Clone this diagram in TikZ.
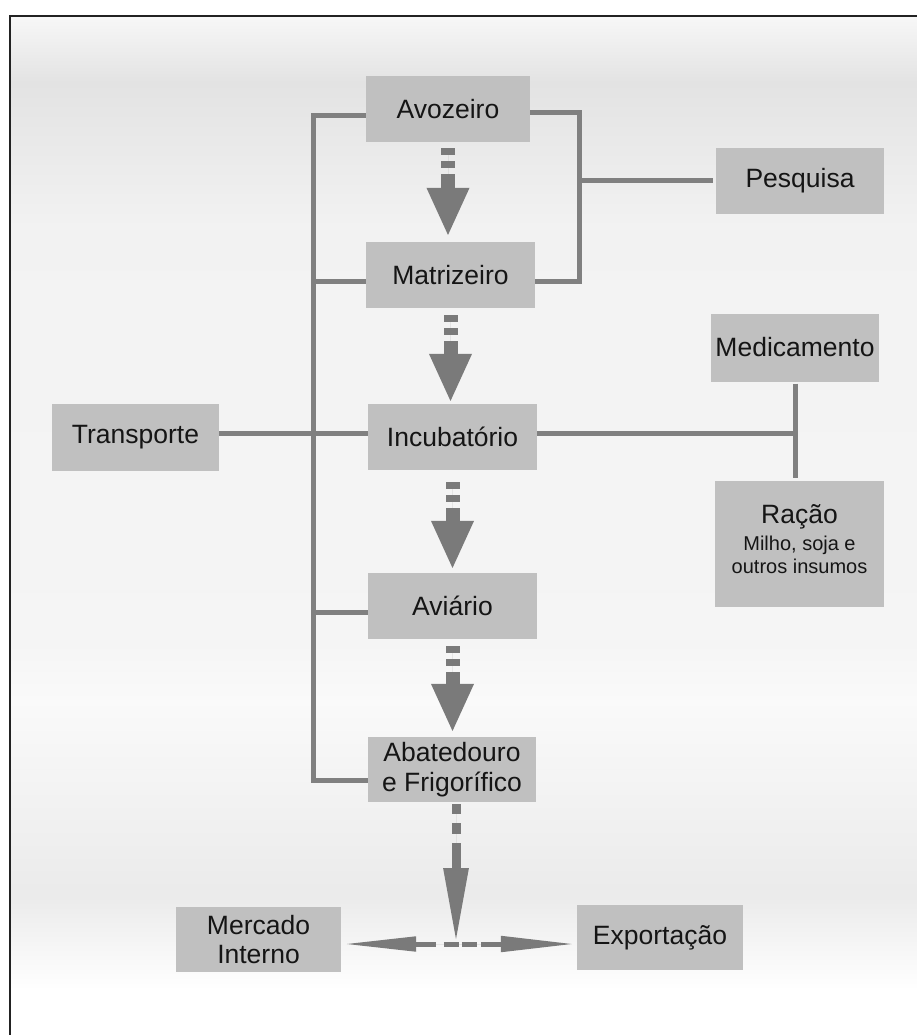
\documentclass[tikz,border=0pt]{standalone}
\usepackage{fontspec}
\setmainfont{Liberation Sans}
\usetikzlibrary{arrows.meta}
\definecolor{boxgray}{HTML}{C0C0C0}
\definecolor{linegray}{HTML}{808080}
\definecolor{arrgray}{HTML}{7A7A7A}
\definecolor{framec}{HTML}{222222}
\definecolor{txt}{HTML}{151515}
\begin{document}
\begin{tikzpicture}[x=1pt,y=-1pt,
  box/.style={fill=boxgray, inner sep=0pt, text=txt, align=center,
    font=\fontsize{26.5}{29.5}\selectfont, minimum width=167pt, minimum height=66pt},
  conn/.style={draw=linegray, line width=5pt},
  fatarrow/.style={draw=arrgray, fill=arrgray, line width=14pt,
    -{Triangle[width=39pt,length=49pt]},
    dash pattern=on 7pt off 6pt on 7pt off 6pt on 100pt off 1pt},
  slimarrow/.style={draw=arrgray, fill=arrgray, line width=9pt,
    -{Triangle[width=23pt,length=76pt]},
    dash pattern=on 10pt off 9pt on 11pt off 9pt on 100pt off 1pt},
  splitarrow/.style={draw=arrgray, fill=arrgray, line width=5pt,
    {Triangle[width=14pt,length=73pt]}-{Triangle[width=15pt,length=74pt]},
    dash pattern=on 21pt off 8pt on 15pt off 3pt on 15pt off 4pt on 100pt off 1pt}
]
\useasboundingbox (0,0) rectangle (917,1035);
% background bands
\fill[white] (0,0) rectangle (917,1035);
\shade[top color=black!3, bottom color=black!11] (10,16) rectangle (917,82);
\shade[top color=black!11, bottom color=black!5] (10,82) rectangle (917,230);
\shade[top color=black!5, bottom color=black!4] (10,230) rectangle (917,640);
\shade[top color=black!4, bottom color=black!2] (10,640) rectangle (917,700);
\shade[top color=black!2, bottom color=black!8] (10,700) rectangle (917,895);
\shade[top color=black!8, bottom color=white] (10,895) rectangle (917,990);
% frame
\draw[framec, line width=2.5pt] (10,1036) -- (10,16) -- (918,16);

% nodes
\node[box, minimum width=164pt] (avo) at (448,109) {Avozeiro};
\node[box, minimum width=169pt] (mat) at (450.5,275) {Matrizeiro};
\node[box, minimum width=169pt] (inc) at (452.5,437) {Incubatório};
\node[box, minimum width=169pt] (avi) at (452.5,606) {Aviário};
\node[box, minimum width=168pt, minimum height=65pt] (aba) at (452,769.5) {Abatedouro\\e Frigorífico};
\node[box, minimum width=168pt] (pes) at (800,181) {Pesquisa};
\node[box, minimum width=168pt, minimum height=68pt] (med) at (795,347.5) {Medicamento};
\node[box, minimum width=169pt, minimum height=126pt, font=\fontsize{20}{23}\selectfont] (rac) at (799.5,544)
  {{\fontsize{26.5}{29.5}\selectfont Ração}\\[4pt]Milho, soja e\\outros insumos\\[-13pt]};
\node[box, minimum width=167pt, minimum height=67pt] (tra) at (135.5,437.5) {Transporte};
\node[box, minimum width=165pt, minimum height=65pt] (mer) at (258.5,939.5) {Mercado\\Interno};
\node[box, minimum width=166pt, minimum height=65pt] (exp) at (660,937.5) {Exportação};

\coordinate (bus) at (313,0);
\coordinate (brk) at (579,0);
\coordinate (jn) at (456,944);

% left bus
\coordinate (s1) at ([yshift=-7pt]avo.west);
\coordinate (s2) at ([yshift=-6pt]mat.west);
\coordinate (s4) at ([yshift=-6pt]avi.west);
\coordinate (s5) at ([yshift=-10.5pt]aba.west);
\draw[conn] (s1) -| (bus |- s5) -- (s5);
\draw[conn] (s2) -- (bus |- s2);
\draw[conn] (s4) -- (bus |- s4);

% transporte / incubatorio / insumos
\draw[conn] ([yshift=4pt]tra.east) -- ([yshift=4pt]tra.east -| inc.west);
\draw[conn] ([yshift=4pt]inc.east) -- ([yshift=4pt]inc.east -| med.south);
\draw[conn] ([yshift=-2pt]med.south) -- ([yshift=3pt]med.south |- rac.north);

% bracket to pesquisa
\coordinate (r1) at ([yshift=-4pt]avo.east);
\coordinate (r2) at ([yshift=-6pt]mat.east);
\draw[conn] (r1) -| (brk |- r2) -- (r2);
\draw[conn] (brk |- pes.west) -- ([xshift=-3pt]pes.west);

% flow arrows
\draw[fatarrow] ([yshift=-6pt]avo.south) -- ([yshift=5pt]avo.south |- mat.north);
\draw[fatarrow] ([yshift=-7pt]mat.south) -- ([yshift=1pt]mat.south |- inc.north);
\draw[fatarrow] ([yshift=-12pt]inc.south) -- ([yshift=3pt]inc.south |- avi.north);
\draw[fatarrow] ([yshift=-7pt]avi.south) -- ([yshift=4pt]avi.south |- aba.north);
\draw[slimarrow] ([yshift=-2pt]aba.south -| jn) -- (jn);
\draw[splitarrow] ([xshift=2pt]mer.east |- jn) -- ([xshift=-2pt]exp.west |- jn);
\end{tikzpicture}
\end{document}
